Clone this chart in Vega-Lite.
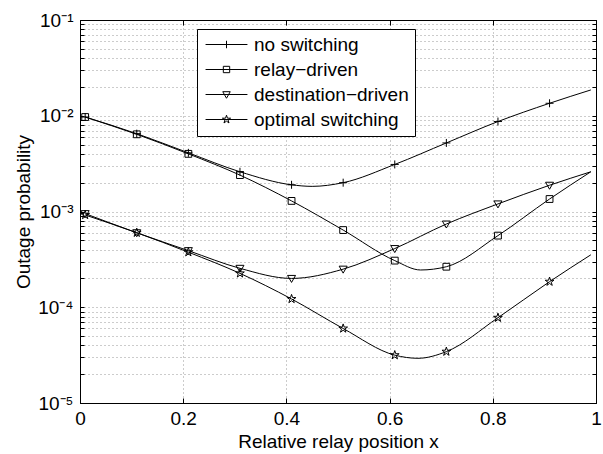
{
  "$schema": "https://vega.github.io/schema/vega-lite/v6.json",
  "width": 516,
  "height": 383,
  "autosize": {"type": "none"},
  "padding": {"left": 80, "top": 20, "right": 7, "bottom": 51},
  "background": "white",
  "config": {
    "font": "Liberation Sans",
    "view": {"stroke": "black", "strokeWidth": 1},
    "axis": {
      "labelFont": "Liberation Sans",
      "titleFont": "Liberation Sans",
      "labelFontSize": 19,
      "titleFontSize": 19,
      "titleFontWeight": "normal",
      "labelColor": "black",
      "titleColor": "black",
      "domainColor": "black",
      "tickColor": "black",
      "gridColor": "#999999",
      "gridDash": [1, 3],
      "gridOpacity": 1,
      "gridWidth": 1
    }
  },
  "datasets": {
    "curves": [
      {"s": "no switching", "x": 0.01, "p": 0.0097},
      {"s": "no switching", "x": 0.11, "p": 0.0065},
      {"s": "no switching", "x": 0.21, "p": 0.0041},
      {"s": "no switching", "x": 0.31, "p": 0.0026},
      {"s": "no switching", "x": 0.41, "p": 0.0019},
      {"s": "no switching", "x": 0.45, "p": 0.00183},
      {"s": "no switching", "x": 0.51, "p": 0.0020},
      {"s": "no switching", "x": 0.61, "p": 0.0031},
      {"s": "no switching", "x": 0.71, "p": 0.0052},
      {"s": "no switching", "x": 0.81, "p": 0.0087},
      {"s": "no switching", "x": 0.91, "p": 0.0135},
      {"s": "no switching", "x": 0.99, "p": 0.0186},
      {"s": "relay−driven", "x": 0.01, "p": 0.0097},
      {"s": "relay−driven", "x": 0.11, "p": 0.0064},
      {"s": "relay−driven", "x": 0.21, "p": 0.0040},
      {"s": "relay−driven", "x": 0.31, "p": 0.0024},
      {"s": "relay−driven", "x": 0.41, "p": 0.00129},
      {"s": "relay−driven", "x": 0.51, "p": 0.00064},
      {"s": "relay−driven", "x": 0.61, "p": 0.000307},
      {"s": "relay−driven", "x": 0.66, "p": 0.000245},
      {"s": "relay−driven", "x": 0.71, "p": 0.000265},
      {"s": "relay−driven", "x": 0.81, "p": 0.00056},
      {"s": "relay−driven", "x": 0.91, "p": 0.00135},
      {"s": "relay−driven", "x": 0.99, "p": 0.0026},
      {"s": "destination−driven", "x": 0.01, "p": 0.00095},
      {"s": "destination−driven", "x": 0.11, "p": 0.0006},
      {"s": "destination−driven", "x": 0.21, "p": 0.00039},
      {"s": "destination−driven", "x": 0.31, "p": 0.000255},
      {"s": "destination−driven", "x": 0.41, "p": 0.0002},
      {"s": "destination−driven", "x": 0.51, "p": 0.00025},
      {"s": "destination−driven", "x": 0.61, "p": 0.00041},
      {"s": "destination−driven", "x": 0.71, "p": 0.00074},
      {"s": "destination−driven", "x": 0.81, "p": 0.0012},
      {"s": "destination−driven", "x": 0.91, "p": 0.00188},
      {"s": "destination−driven", "x": 0.99, "p": 0.0026},
      {"s": "optimal switching", "x": 0.01, "p": 0.00092},
      {"s": "optimal switching", "x": 0.11, "p": 0.0006},
      {"s": "optimal switching", "x": 0.21, "p": 0.000376},
      {"s": "optimal switching", "x": 0.31, "p": 0.000226},
      {"s": "optimal switching", "x": 0.41, "p": 0.000122},
      {"s": "optimal switching", "x": 0.51, "p": 0.00006},
      {"s": "optimal switching", "x": 0.61, "p": 0.0000316},
      {"s": "optimal switching", "x": 0.655, "p": 0.0000293},
      {"s": "optimal switching", "x": 0.71, "p": 0.0000344},
      {"s": "optimal switching", "x": 0.81, "p": 0.0000777},
      {"s": "optimal switching", "x": 0.91, "p": 0.000185},
      {"s": "optimal switching", "x": 0.99, "p": 0.000353}
    ],
    "markers": [
      {"s": "no switching", "x": 0.01, "p": 0.0097},
      {"s": "no switching", "x": 0.11, "p": 0.0065},
      {"s": "no switching", "x": 0.21, "p": 0.0041},
      {"s": "no switching", "x": 0.31, "p": 0.0026},
      {"s": "no switching", "x": 0.41, "p": 0.0019},
      {"s": "no switching", "x": 0.51, "p": 0.0020},
      {"s": "no switching", "x": 0.61, "p": 0.0031},
      {"s": "no switching", "x": 0.71, "p": 0.0052},
      {"s": "no switching", "x": 0.81, "p": 0.0087},
      {"s": "no switching", "x": 0.91, "p": 0.0135},
      {"s": "relay−driven", "x": 0.01, "p": 0.0097},
      {"s": "relay−driven", "x": 0.11, "p": 0.0064},
      {"s": "relay−driven", "x": 0.21, "p": 0.0040},
      {"s": "relay−driven", "x": 0.31, "p": 0.0024},
      {"s": "relay−driven", "x": 0.41, "p": 0.00129},
      {"s": "relay−driven", "x": 0.51, "p": 0.00064},
      {"s": "relay−driven", "x": 0.61, "p": 0.000307},
      {"s": "relay−driven", "x": 0.71, "p": 0.000265},
      {"s": "relay−driven", "x": 0.81, "p": 0.00056},
      {"s": "relay−driven", "x": 0.91, "p": 0.00135},
      {"s": "destination−driven", "x": 0.01, "p": 0.00095},
      {"s": "destination−driven", "x": 0.11, "p": 0.0006},
      {"s": "destination−driven", "x": 0.21, "p": 0.00039},
      {"s": "destination−driven", "x": 0.31, "p": 0.000255},
      {"s": "destination−driven", "x": 0.41, "p": 0.0002},
      {"s": "destination−driven", "x": 0.51, "p": 0.00025},
      {"s": "destination−driven", "x": 0.61, "p": 0.00041},
      {"s": "destination−driven", "x": 0.71, "p": 0.00074},
      {"s": "destination−driven", "x": 0.81, "p": 0.0012},
      {"s": "destination−driven", "x": 0.91, "p": 0.00188},
      {"s": "optimal switching", "x": 0.01, "p": 0.00092},
      {"s": "optimal switching", "x": 0.11, "p": 0.0006},
      {"s": "optimal switching", "x": 0.21, "p": 0.000376},
      {"s": "optimal switching", "x": 0.31, "p": 0.000226},
      {"s": "optimal switching", "x": 0.41, "p": 0.000122},
      {"s": "optimal switching", "x": 0.51, "p": 0.00006},
      {"s": "optimal switching", "x": 0.61, "p": 0.0000316},
      {"s": "optimal switching", "x": 0.71, "p": 0.0000344},
      {"s": "optimal switching", "x": 0.81, "p": 0.0000777},
      {"s": "optimal switching", "x": 0.91, "p": 0.000185}
    ]
  },
  "layer": [
    {
      "data": {"name": "curves"},
      "mark": {"type": "line", "interpolate": "monotone", "color": "black", "strokeWidth": 1},
      "encoding": {
        "x": {
          "field": "x", "type": "quantitative",
          "scale": {"domain": [0, 1], "nice": false, "zero": false},
          "axis": {
            "orient": "bottom",
            "values": [0, 0.2, 0.4, 0.6, 0.8, 1],
            "grid": true,
            "tickSize": -5,
            "labelPadding": 11,
            "titlePadding": 4,
            "labelFlush": false,
            "labelExpr": "datum.value == 0 ? '0' : datum.value == 1 ? '1' : format(datum.value, '.1f')",
            "title": "Relative relay position x"
          }
        },
        "y": {
          "field": "p", "type": "quantitative",
          "scale": {"type": "log", "domain": [0.00001, 0.1], "nice": false},
          "axis": {
            "orient": "left",
            "values": [0.00001, 0.00002, 0.00003, 0.00004, 0.00005, 0.00006, 0.00007, 0.00008, 0.00009,
                       0.0001, 0.0002, 0.0003, 0.0004, 0.0005, 0.0006, 0.0007, 0.0008, 0.0009,
                       0.001, 0.002, 0.003, 0.004, 0.005, 0.006, 0.007, 0.008, 0.009,
                       0.01, 0.02, 0.03, 0.04, 0.05, 0.06, 0.07, 0.08, 0.09, 0.1],
            "grid": true,
            "tickSize": -4,
            "labelPadding": 11,
            "titlePadding": 4,
            "labelFlush": false,
            "labelOverlap": false,
            "labelExpr": "datum.value == 0.1 ? '10⁻¹' : datum.value == 0.01 ? '10⁻²' : datum.value == 0.001 ? '10⁻³' : datum.value == 0.0001 ? '10⁻⁴' : datum.value == 0.00001 ? '10⁻⁵' : ''",
            "title": "Outage probability"
          }
        },
        "detail": {"field": "s", "type": "nominal"}
      }
    },
    {
      "data": {"name": "markers"},
      "mark": {"type": "point", "filled": false, "stroke": "black", "strokeWidth": 1, "size": 64, "opacity": 1},
      "encoding": {
        "x": {
          "field": "x", "type": "quantitative",
          "axis": {
            "orient": "top",
            "values": [0, 0.2, 0.4, 0.6, 0.8, 1],
            "grid": false, "labels": false, "title": null,
            "tickSize": -5
          }
        },
        "y": {
          "field": "p", "type": "quantitative",
          "axis": {
            "orient": "right",
            "values": [0.00001, 0.00002, 0.00003, 0.00004, 0.00005, 0.00006, 0.00007, 0.00008, 0.00009,
                       0.0001, 0.0002, 0.0003, 0.0004, 0.0005, 0.0006, 0.0007, 0.0008, 0.0009,
                       0.001, 0.002, 0.003, 0.004, 0.005, 0.006, 0.007, 0.008, 0.009,
                       0.01, 0.02, 0.03, 0.04, 0.05, 0.06, 0.07, 0.08, 0.09, 0.1],
            "grid": false, "labels": false, "title": null,
            "tickSize": -4
          }
        },
        "shape": {
          "field": "s", "type": "nominal",
          "scale": {
            "domain": ["no switching", "relay−driven", "destination−driven", "optimal switching"],
            "range": [
              "M-1,0H1M0,-1V1",
              "M-0.85,-0.85H0.85V0.85H-0.85Z",
              "M-1,-0.75L1,-0.75L0,1Z",
              "M0,-1.15L0.259,-0.355L1.094,-0.355L0.417,0.136L0.676,0.93L0,0.439L-0.676,0.93L-0.417,0.136L-1.094,-0.355L-0.259,-0.355Z"
            ]
          },
          "legend": null
        }
      }
    },
    {
      "data": {"name": "markers"},
      "transform": [{"filter": "false"}],
      "mark": {"type": "point", "filled": false, "stroke": "black", "strokeWidth": 1, "size": 56},
      "encoding": {
        "x": {"field": "x", "type": "quantitative", "axis": null},
        "y": {"field": "p", "type": "quantitative", "axis": null},
        "shape": {
          "field": "s", "type": "nominal",
          "scale": {
            "domain": ["no switching", "relay−driven", "destination−driven", "optimal switching"],
            "range": [
              "M-5.6,0H5.6M0,-1V1",
              "M-5.6,0H5.6M-0.85,-0.85H0.85V0.85H-0.85Z",
              "M-5.6,0H5.6M-1,-0.75L1,-0.75L0,1Z",
              "M-5.6,0H5.6M0,-1.15L0.259,-0.355L1.094,-0.355L0.417,0.136L0.676,0.93L0,0.439L-0.676,0.93L-0.417,0.136L-1.094,-0.355L-0.259,-0.355Z"
            ]
          },
          "legend": {
            "orient": "none",
            "legendX": 117,
            "legendY": 9,
            "title": null,
            "strokeColor": "black",
            "fillColor": "white",
            "padding": 6,
            "rowPadding": 5,
            "symbolSize": 56,
            "symbolOffset": 14,
            "labelOffset": 18,
            "labelFont": "Liberation Sans",
            "labelFontSize": 19,
            "labelColor": "black",
            "labelLimit": 400,
            "symbolStrokeColor": "black",
            "symbolFillColor": "transparent",
            "symbolStrokeWidth": 1,
            "symbolOpacity": 1
          }
        }
      }
    }
  ],
  "resolve": {"axis": {"x": "independent", "y": "independent"}, "scale": {"shape": "independent"}}
}
